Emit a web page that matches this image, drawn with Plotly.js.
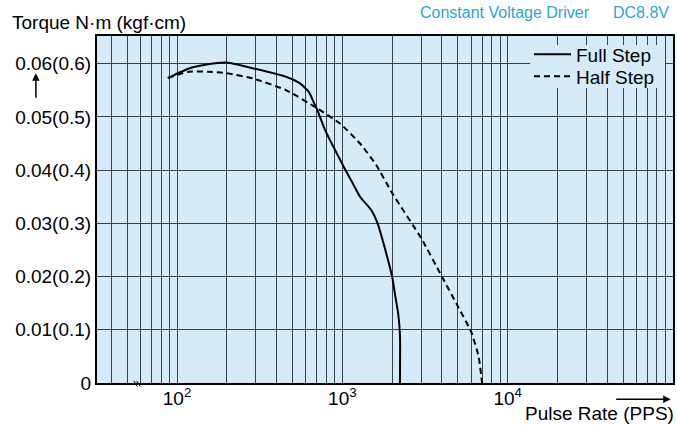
<!DOCTYPE html>
<html>
<head>
<meta charset="utf-8">
<script src="https://cdn.plot.ly/plotly-3.0.1.min.js"></script>
<style>html,body{margin:0;padding:0;background:#fff;}#chart{width:677px;height:425px;}</style>
</head>
<body>
<div id="chart"></div>
<script>
// Full step curve (pulse rate PPS, torque N·m)
var fullX = [88, 118, 154, 200, 290, 460, 555, 627, 670, 705, 787, 1021, 1143, 1279, 1496, 1635, 1750, 2000, 2094, 2175, 2215, 2235, 2230];
var fullY = [0.0573, 0.0591, 0.0599, 0.0602, 0.0591, 0.0575, 0.0563, 0.0547, 0.0528, 0.0513, 0.0475, 0.0406, 0.0378, 0.0350, 0.0325, 0.0300, 0.0269, 0.0200, 0.0162, 0.0131, 0.0106, 0.0081, 0];
// Half step curve
var halfX = [88, 118, 154, 200, 290, 459, 705, 973, 1279, 1600, 2000, 3000, 4000, 5000, 6000, 6670, 7000];
var halfY = [0.0573, 0.0585, 0.0585, 0.0582, 0.0572, 0.0550, 0.0516, 0.0487, 0.0450, 0.0410, 0.0357, 0.0272, 0.0200, 0.0144, 0.0097, 0.0050, 0];
var seriesNames = ['Full Step', 'Half Step'];
// Axis ticks
var xGridVals = [40,50,60,70,80,90,100,200,300,400,500,600,700,800,900,1000,2000,3000,4000,5000,6000,7000,8000,9000,10000,20000,30000,40000,50000,60000,70000,80000,90000];
var xLabelMap = {100: '10<sup>2</sup>', 1000: '10<sup>3</sup>', 10000: '10<sup>4</sup>'};
var yTickVals = [0, 0.01, 0.02, 0.03, 0.04, 0.05, 0.06];
var yTickText = ['0', '0.01(0.1)', '0.02(0.2)', '0.03(0.3)', '0.04(0.4)', '0.05(0.5)', '0.06(0.6)'];

var xTickText = xGridVals.map(function(v){ return xLabelMap[v] || ''; });
var FONT = 'Liberation Sans, Arial, Helvetica, sans-serif';
var BG = '#d5ebf8';
var BLUE = '#2aa6e0';

var traces = [
  {x: fullX, y: fullY, name: seriesNames[0], type: 'scatter', mode: 'lines', legend: 'legend',
   line: {color: '#000', width: 2, shape: 'spline', smoothing: 0.5}},
  {x: halfX, y: halfY, name: seriesNames[1], type: 'scatter', mode: 'lines', legend: 'legend2',
   line: {color: '#000', width: 2, dash: '6px,4px', shape: 'spline', smoothing: 0.5}}
];

var legendFont = {family: FONT, size: 19, color: '#000'};
var layout = {
  width: 677, height: 425,
  margin: {l: 97, r: 4, t: 36, b: 42},
  paper_bgcolor: '#fff',
  plot_bgcolor: BG,
  font: {family: FONT, size: 19, color: '#000'},
  showlegend: true,
  legend: {x: 0.75, y: 1.002, xanchor: 'left', yanchor: 'top', bgcolor: 'rgba(0,0,0,0)', borderwidth: 0, itemwidth: 37, font: legendFont},
  legend2: {x: 0.75, y: 0.938, xanchor: 'left', yanchor: 'top', bgcolor: 'rgba(0,0,0,0)', borderwidth: 0, itemwidth: 37, font: legendFont},
  xaxis: {type: 'log', range: [1.516, 5.0], tickmode: 'array', tickvals: xGridVals, ticktext: xTickText,
          showgrid: true, gridcolor: '#36424c', gridwidth: 1, zeroline: false,
          showline: true, linecolor: '#000', linewidth: 2, mirror: true, ticks: '', ticklabelstandoff: -3,
          tickfont: {family: FONT, size: 19, color: '#000'}},
  yaxis: {range: [0, 0.0652], tickmode: 'array', tickvals: yTickVals, ticktext: yTickText,
          showgrid: true, gridcolor: '#36424c', gridwidth: 1, zeroline: false,
          showline: true, linecolor: '#000', linewidth: 2, mirror: true, ticks: '',
          tickfont: {family: FONT, size: 19, color: '#000'}},
  annotations: [
    {text: 'Torque N·m (kgf·cm)', xref: 'paper', yref: 'paper', x: -0.1518, y: 1.04, xanchor: 'left', yanchor: 'middle', showarrow: false, font: {family: FONT, size: 19, color: '#000'}},
    {text: 'Constant Voltage Driver', xref: 'paper', yref: 'paper', x: 0.557, y: 1.069, xanchor: 'left', yanchor: 'middle', showarrow: false, font: {family: FONT, size: 16, color: BLUE}},
    {text: 'DC8.8V', xref: 'paper', yref: 'paper', x: 0.8917, y: 1.069, xanchor: 'left', yanchor: 'middle', showarrow: false, font: {family: FONT, size: 16, color: BLUE}},
    {text: 'Pulse Rate (PPS)', xref: 'paper', yref: 'paper', x: 1.0047, y: -0.089, xanchor: 'right', yanchor: 'middle', showarrow: false, font: {family: FONT, size: 19, color: '#000'}},
    {text: '', xref: 'paper', yref: 'paper', x: -0.1061, y: 0.8925, showarrow: true, ax: 0, ay: 26, arrowhead: 2, arrowsize: 1, arrowwidth: 1.5, arrowcolor: '#000'},
    {text: '', xref: 'paper', yref: 'paper', x: 0.996, y: -0.047, showarrow: true, ax: -56, ay: 0, arrowhead: 2, arrowsize: 1, arrowwidth: 1.5, arrowcolor: '#000'}
  ],
  shapes: [
    {type: 'rect', xref: 'paper', yref: 'paper', x0: 0.752, x1: 0.986, y0: 0.850, y1: 0.974, layer: 'above', fillcolor: BG, line: {width: 0}},
    {type: 'line', xref: 'paper', yref: 'paper', x0: 0.064, y0: 0.006, x1: 0.070, y1: -0.010, line: {color: '#000', width: 1}},
    {type: 'line', xref: 'paper', yref: 'paper', x0: 0.069, y0: 0.006, x1: 0.075, y1: -0.010, line: {color: '#000', width: 1}}
  ]
};

Plotly.newPlot('chart', traces, layout, {staticPlot: true, displayModeBar: false});
</script>
</body>
</html>
